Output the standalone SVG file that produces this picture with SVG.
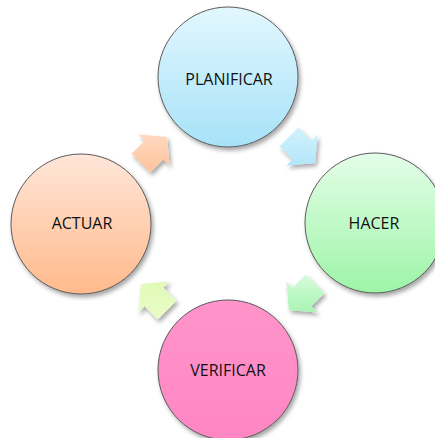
<svg xmlns="http://www.w3.org/2000/svg" width="435" height="438" viewBox="0 0 435 438">
<defs>
<filter id="sh" x="-30%" y="-30%" width="160%" height="160%">
<feDropShadow dx="2" dy="3" stdDeviation="2.2" flood-color="#000" flood-opacity="0.35"/>
</filter>
<linearGradient id="gBlue" x1="0" y1="0" x2="0" y2="1"><stop offset="0" stop-color="#e2f7fe"/><stop offset="1" stop-color="#a7e2f8"/></linearGradient>
<linearGradient id="gGreen" x1="0" y1="0" x2="0" y2="1"><stop offset="0" stop-color="#e4fde8"/><stop offset="1" stop-color="#9df5a7"/></linearGradient>
<linearGradient id="gPink" x1="0" y1="0" x2="0" y2="1"><stop offset="0" stop-color="#ff94ca"/><stop offset="1" stop-color="#ff86c3"/></linearGradient>
<linearGradient id="gOrange" x1="0" y1="0" x2="0" y2="1"><stop offset="0" stop-color="#ffe6d9"/><stop offset="1" stop-color="#ffba8b"/></linearGradient>
<linearGradient id="aBlue" x1="0" y1="0" x2="0" y2="1"><stop offset="0" stop-color="#d2f2fd"/><stop offset="1" stop-color="#b2e6f9"/></linearGradient>
<linearGradient id="aGreen" x1="0" y1="0" x2="0" y2="1"><stop offset="0" stop-color="#d6fcdb"/><stop offset="1" stop-color="#a8f4b2"/></linearGradient>
<linearGradient id="aLime" x1="0" y1="0" x2="0" y2="1"><stop offset="0" stop-color="#e0f9b8"/><stop offset="1" stop-color="#e9fcc6"/></linearGradient>
<linearGradient id="aOrange" x1="0" y1="0" x2="0" y2="1"><stop offset="0" stop-color="#ffd9c0"/><stop offset="1" stop-color="#ffc39b"/></linearGradient>
</defs>
<style>
.node circle{stroke:#5a5a5a;stroke-width:1;filter:url(#sh)}
.lbl{font-family:"Open Sans","Liberation Sans",sans-serif;font-size:16px;fill:#111;text-anchor:middle}
.arr{filter:url(#sh)}
</style>
<rect width="435" height="438" fill="#fff"/>
<g id="connectors">
<polygon class="arr" fill="url(#aBlue)" points="298.25,127.59 311.33,140.67 317.56,134.44 315.08,163.08 286.44,165.56 292.67,159.33 279.59,146.25"/>
<polygon class="arr" fill="url(#aGreen)" points="324.41,293.25 311.33,306.33 317.56,312.56 288.92,310.08 286.44,281.44 292.67,287.67 305.75,274.59"/>
<polygon class="arr" fill="url(#aLime)" points="157.75,319.41 144.67,306.33 138.44,312.56 140.92,283.92 169.56,281.44 163.33,287.67 176.41,300.75"/>
<polygon class="arr" fill="url(#aOrange)" points="131.59,153.75 144.67,140.67 138.44,134.44 167.08,136.92 169.56,165.56 163.33,159.33 150.25,172.41"/>
</g>
<g id="planificar" class="node">
<circle cx="228" cy="77" r="70" fill="url(#gBlue)"/>
<text class="lbl" x="229" y="85">PLANIFICAR</text>
</g>
<g id="hacer" class="node">
<circle cx="375" cy="223" r="70" fill="url(#gGreen)"/>
<text class="lbl" x="374" y="229">HACER</text>
</g>
<g id="verificar" class="node">
<circle cx="228" cy="370" r="70" fill="url(#gPink)"/>
<text class="lbl" x="228" y="376">VERIFICAR</text>
</g>
<g id="actuar" class="node">
<circle cx="81" cy="224" r="70" fill="url(#gOrange)"/>
<text class="lbl" x="82" y="229">ACTUAR</text>
</g>
</svg>
